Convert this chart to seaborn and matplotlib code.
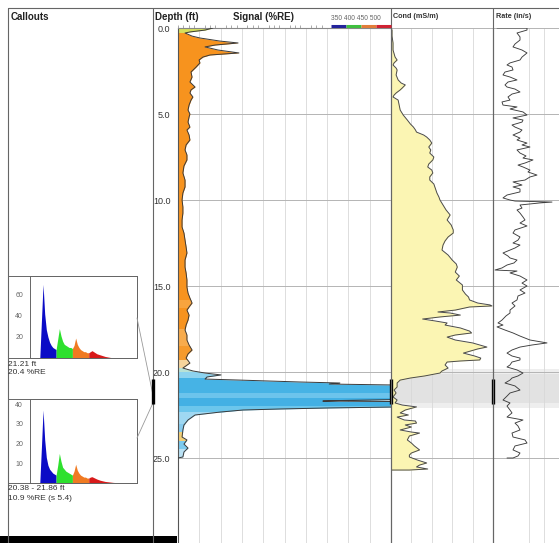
import numpy as np
import matplotlib
matplotlib.use("Agg")
import matplotlib.pyplot as plt
from matplotlib.patches import Rectangle
from matplotlib.ticker import MultipleLocator, FormatStrFormatter
import seaborn as sns

# Signal (%RE) against depth (ft)
signal_depth = [0.00, 0.12, 0.23, 0.29, 0.47, 0.58, 0.76, 0.87, 0.99, 1.10,
                1.28, 1.45, 1.57, 1.69, 1.86, 2.03, 2.27, 2.56, 2.85, 3.14,
                3.43, 3.60, 3.78, 4.01, 4.19, 4.48, 4.77, 5.00, 5.17, 5.47,
                5.76, 5.93, 6.22, 6.51, 6.80, 7.09, 7.38, 7.67, 8.02, 8.43,
                8.84, 9.24, 9.59, 10.00, 10.41, 10.76, 11.16, 11.57, 11.92, 12.33,
                12.73, 13.08, 13.49, 13.90, 14.24, 14.65, 15.06, 15.41, 15.70, 15.99,
                16.22, 16.40, 16.69, 16.98, 17.27, 17.56, 17.85, 18.14, 18.43, 18.72,
                18.95, 19.19, 19.48, 19.77, 19.94, 20.06, 20.17, 20.29, 20.41, 20.47,
                20.58, 20.64, 20.70, 20.76, 21.60, 21.66, 21.69, 21.72, 21.76, 22.03,
                22.09, 22.15, 22.21, 22.33, 22.50, 22.79, 23.08, 23.37, 23.78, 23.95,
                24.19, 24.42, 24.65, 24.94, 25.00]
signal_value = [16.4, 12.7, 5.6, 3.3, 6.6, 10.3, 19.7, 28.2, 17.4, 12.7,
                18.8, 28.6, 15.0, 11.7, 9.9, 10.3, 8.5, 6.1, 6.6, 5.6,
                8.0, 6.1, 5.6, 7.0, 6.1, 5.2, 4.7, 5.6, 5.2, 4.7,
                5.6, 4.2, 5.2, 5.6, 3.8, 3.3, 4.2, 4.2, 2.8, 2.3,
                3.3, 3.3, 2.3, 1.9, 2.3, 2.3, 1.9, 1.9, 2.8, 3.3,
                3.8, 4.2, 3.3, 3.3, 3.8, 4.2, 4.2, 4.7, 5.6, 6.6,
                5.2, 4.2, 5.2, 4.7, 3.8, 3.3, 4.2, 4.2, 5.2, 6.6,
                4.7, 3.8, 5.6, 2.3, 7.0, 12.7, 20.2, 13.6, 12.7, 29.0,
                57.0, 76.0, 71.0, 104, 104, 75, 68, 104, 104, 104,
                71, 48, 30.5, 19.7, 8.0, 4.7, 2.8, 2.3, 1.9, 4.2,
                2.8, 4.7, 2.8, 2.3, 0.0]

# colour zones of the signal fill
zone_top = [0.0, 0.3, 15.8, 16.3, 17.5, 18.5, 19.3, 19.75, 20.0, 20.35,
            21.2, 21.5, 22.0, 22.3, 23.0, 23.5, 24.0, 24.5]
zone_bottom = [0.3, 15.8, 16.3, 17.5, 18.5, 19.3, 19.75, 20.0, 20.35, 21.2,
               21.5, 22.0, 22.3, 23.0, 23.5, 24.0, 24.5, 25.0]
zone_color = ['#d6e05c', '#f7931e', '#f8a43e', '#f7931e', '#f7ab4c', '#f59a2c',
              '#f6d49c', '#b8e2d6', '#8dd3ef', '#46b3e5', '#6cc4ec', '#43b0e4',
              '#6cc6ec', '#9fd8f2', '#86ccef', '#f2cf78', '#7ccaee', '#b9e1f4']

# Conductivity (mS/m)
cond_depth = [0.00, 0.12, 0.47, 0.87, 1.28, 1.69, 1.86, 2.03, 2.15, 2.33,
              2.44, 2.73, 3.02, 3.20, 3.31, 3.49, 3.60, 3.78, 3.90, 4.01,
              4.19, 4.48, 4.77, 5.06, 5.35, 5.58, 5.76, 5.93, 6.05, 6.22,
              6.34, 6.51, 6.69, 6.92, 7.09, 7.27, 7.50, 7.67, 7.91, 8.08,
              8.26, 8.43, 8.66, 8.84, 9.07, 9.24, 9.42, 9.59, 9.83, 10.00,
              10.29, 10.58, 10.87, 11.16, 11.45, 11.74, 11.92, 12.15, 12.38, 12.62,
              12.91, 13.20, 13.49, 13.72, 13.90, 14.19, 14.42, 14.65, 14.94, 15.23,
              15.47, 15.64, 15.81, 15.99, 16.10, 16.16, 16.22, 16.40, 16.51, 16.57,
              16.69, 16.80, 16.92, 17.03, 17.15, 17.27, 17.44, 17.62, 17.73, 17.85,
              17.97, 18.14, 18.31, 18.43, 18.55, 18.66, 18.78, 18.90, 19.07, 19.19,
              19.30, 19.36, 19.42, 19.59, 19.77, 19.94, 20.06, 20.23, 20.35, 20.47,
              20.64, 20.87, 21.05, 21.22, 21.45, 21.63, 21.80, 21.92, 22.03, 22.21,
              22.38, 22.50, 22.62, 22.79, 22.85, 22.97, 23.08, 23.20, 23.37, 23.49,
              23.55, 23.72, 23.95, 24.13, 24.30, 24.53, 24.71, 24.83, 24.94, 25.12,
              25.29, 25.41, 25.52, 25.64, 25.70, 25.70]
cond_value = [0, 1, 1, 2, 2, 4, 6, 3, 2, 5,
              6, 5, 7, 10, 14, 11, 9, 5, 3, 2,
              7, 8, 9, 12, 16, 19, 22, 24, 25, 32,
              35, 38, 40, 37, 39, 38, 42, 41, 37, 36,
              40, 41, 38, 38, 42, 43, 44, 45, 47, 48,
              51, 54, 58, 55, 59, 61, 61, 56, 53, 51,
              50, 56, 60, 64, 65, 63, 67, 64, 70, 70,
              73, 76, 77, 85, 97, 99, 77, 63, 46, 58,
              68, 48, 31, 43, 55, 53, 68, 77, 79, 63,
              55, 63, 80, 87, 94, 85, 78, 71, 82, 88,
              87, 68, 55, 53, 56, 50, 48, 33, 19, 9,
              6, 6, 3, 5, 2, 6, 4, 11, 25, 14,
              9, 17, 6, 13, 24, 25, 14, 20, 9, 20,
              28, 18, 16, 20, 23, 28, 20, 18, 18, 26,
              35, 28, 25, 36, 18, 0]

# Logging rate (in/s, track units)
rate_depth = [0.00, 0.00, 0.12, 0.29, 0.52, 0.70, 0.93, 1.10, 1.28, 1.45,
              1.69, 1.86, 2.03, 2.15, 2.27, 2.44, 2.56, 2.73, 2.85, 3.02,
              3.14, 3.31, 3.43, 3.55, 3.72, 3.84, 4.01, 4.19, 4.30, 4.48,
              4.59, 4.71, 4.88, 5.06, 5.23, 5.35, 5.47, 5.64, 5.76, 5.93,
              6.05, 6.22, 6.40, 6.51, 6.69, 6.80, 6.92, 7.09, 7.27, 7.44,
              7.56, 7.67, 7.85, 7.97, 8.08, 8.26, 8.37, 8.55, 8.66, 8.84,
              8.95, 9.13, 9.24, 9.36, 9.53, 9.71, 9.88, 10.00, 10.06, 10.12,
              10.17, 10.29, 10.47, 10.58, 10.76, 10.99, 11.16, 11.34, 11.51, 11.74,
              11.92, 12.15, 12.33, 12.50, 12.62, 12.79, 12.91, 13.08, 13.26, 13.37,
              13.49, 13.66, 13.78, 13.95, 14.07, 14.13, 14.24, 14.42, 14.65, 14.83,
              15.00, 15.23, 15.41, 15.58, 15.81, 15.99, 16.16, 16.40, 16.57, 16.74,
              16.98, 17.15, 17.27, 17.38, 17.56, 17.73, 17.91, 18.14, 18.31, 18.43,
              18.55, 18.72, 18.90, 19.07, 19.19, 19.30, 19.42, 19.59, 19.71, 19.88,
              20.06, 20.23, 20.35, 20.47, 20.64, 20.81, 21.05, 21.22, 21.40, 21.63,
              21.80, 21.98, 22.21, 22.38, 22.62, 22.79, 22.97, 23.14, 23.37, 23.55,
              23.78, 23.95, 24.13, 24.30, 24.53, 24.71, 24.88, 25.00, 25.00]
rate_value = [4, 34, 34, 24, 27, 27, 22, 20, 29, 34,
              29, 27, 17, 14, 19, 20, 12, 10, 17, 24,
              15, 12, 14, 22, 27, 19, 15, 17, 9, 10,
              24, 17, 30, 34, 20, 30, 29, 19, 22, 29,
              27, 20, 27, 24, 34, 29, 37, 24, 27, 33,
              30, 40, 32, 25, 30, 37, 35, 44, 37, 32,
              20, 29, 20, 27, 27, 14, 10, 17, 22, 59,
              47, 27, 29, 24, 27, 30, 32, 27, 34, 22,
              20, 27, 25, 20, 27, 22, 17, 10, 15, 17,
              24, 21, 14, 9, 2, 24, 17, 27, 34, 29,
              34, 27, 32, 25, 24, 19, 22, 17, 17, 13,
              9, 5, 10, 4, 12, 20, 27, 37, 54, 39,
              27, 19, 14, 19, 27, 27, 19, 17, 14, 24,
              30, 25, 19, 17, 12, 22, 27, 17, 14, 10,
              17, 14, 17, 19, 14, 30, 22, 25, 27, 19,
              20, 32, 34, 22, 20, 27, 25, 20, 14]

# callout spectra (counts per energy bin)
energy = np.arange(340, 645, 5)
spec_point = [0, 0, 0, 35, 70, 42, 27, 20, 15, 12, 10, 9, 8,
              18, 28, 21, 16, 13, 12, 11, 10, 10, 9,
              12, 19, 13, 10, 8, 7, 6, 6, 5, 5,
              6, 7, 6, 5, 4, 3.5, 3, 2.5, 2, 1.5, 1.2, 0.9, 0.6, 0.4, 0.2, 0.1,
              0, 0, 0, 0, 0, 0, 0, 0, 0, 0, 0, 0]
spec_range = [0, 0, 0, 18, 37, 22, 13, 9, 7, 6, 5, 4.5, 4,
              9, 15, 11, 8, 7, 6, 5.5, 5, 4.5, 4,
              6, 9.5, 6.5, 5, 4, 3.5, 3, 3, 2.5, 2.5,
              3, 3.2, 2.8, 2.4, 2, 1.7, 1.4, 1.2, 1, 0.8, 0.7, 0.6, 0.5, 0.4, 0.3, 0.25,
              0.2, 0.15, 0.1, 0.1, 0.08, 0.06, 0.05, 0.04, 0.03, 0.02, 0.01, 0]
win_lo = [340, 400, 450, 500]
win_hi = [400, 450, 500, 640]
win_color = ['#0b0bc6', '#2ee02e', '#f07a22', '#d81a1a']

point_label = ["21.21 ft", "20.4 %RE"]
range_label = ["20.38 - 21.86 ft", "10.9 %RE (s 5.4)"]
range_top, range_bottom = 20.38, 21.86
point_depth = 21.21

sns.set_style("white")
plt.rcParams['font.family'] = ['Liberation Sans', 'DejaVu Sans']

W, H = 559, 543
TOP = 28
PX_FT = 17.2
depth_max = (H - TOP) / PX_FT


def place(x0, y0, x1, y1):
    return [x0 / W, 1 - y1 / H, (x1 - x0) / W, (y1 - y0) / H]


def ypx(d):
    return TOP + d * PX_FT


fig = plt.figure(figsize=(W / 100, H / 100), dpi=100)


def track(x0, x1, xmax, xgrid):
    ax = fig.add_axes(place(x0, TOP, x1, H))
    ax.set_xlim(0, xmax)
    ax.set_ylim(depth_max, 0)
    ax.set_xticks(xgrid)
    ax.set_yticks(np.arange(0, 30, 5))
    ax.yaxis.set_minor_locator(MultipleLocator(0.5))
    ax.grid(axis='x', color='#d8d8d8', lw=0.6)
    ax.grid(axis='y', color='#b4b4b4', lw=0.7)
    ax.set_axisbelow(True)
    for s in ax.spines.values():
        s.set_visible(False)
    ax.spines['left'].set_visible(True)
    ax.spines['left'].set_color('#555555')
    ax.spines['left'].set_linewidth(0.8)
    ax.tick_params(axis='x', which='both', length=0, labelbottom=False, labeltop=False)
    ax.tick_params(axis='y', which='both', labelleft=False, direction='inout',
                   color='#555555', width=0.6)
    ax.tick_params(axis='y', which='major', length=5)
    ax.tick_params(axis='y', which='minor', length=3)
    return ax


# signal track
ax_s = track(178, 391, 100, list(range(10, 100, 10)))
for top, bot, c in zip(zone_top, zone_bottom, zone_color):
    poly = ax_s.fill_betweenx(signal_depth, 0, signal_value, color=c, lw=0, zorder=2)
    poly.set_clip_path(Rectangle((-5, top), 120, bot - top, transform=ax_s.transData))
sns.lineplot(x=signal_value, y=signal_depth, orient='y', sort=False, estimator=None,
             color='#3a3a3a', linewidth=0.7, ax=ax_s, zorder=3)
ax_s.set(xlabel='', ylabel='')
ax_s.set_xlim(0, 100)
ax_s.set_ylim(depth_max, 0)
ax_s.tick_params(axis='y', which='both', labelleft=True, direction='out', labelsize=6.5,
                 labelcolor='#333333', pad=1.5)
ax_s.tick_params(axis='y', which='major', length=4)
ax_s.tick_params(axis='y', which='minor', length=2.5)
ax_s.yaxis.set_major_formatter(FormatStrFormatter('%.1f'))
ax_s.spines['top'].set_visible(True)
ax_s.spines['top'].set_color('#888888')
ax_s.spines['top'].set_linewidth(0.8)
ax_s.xaxis.set_ticks_position('top')
ax_s.xaxis.set_minor_locator(MultipleLocator(2.5))
ax_s.tick_params(axis='x', which='major', length=0, labeltop=False, labelbottom=False)
ax_s.tick_params(axis='x', which='minor', length=2, color='#888888', width=0.5,
                 direction='out', labeltop=False, labelbottom=False)

# conductivity track
ax_c = track(391, 493, 100, [20, 40, 60, 80])
ax_c.axhspan(19.8, 22.1, color='#eeeeee', lw=0, zorder=0.2)
ax_c.axhspan(20.1, 21.8, color='#e2e2e2', lw=0, zorder=0.3)
ax_c.fill_betweenx(cond_depth, 0, cond_value, color='#fbf5b3', lw=0, zorder=2)
sns.lineplot(x=cond_value, y=cond_depth, orient='y', sort=False, estimator=None,
             color='#4a4a4a', linewidth=0.7, ax=ax_c, zorder=3)
ax_c.set(xlabel='', ylabel='')
ax_c.set_xlim(0, 100)
ax_c.set_ylim(depth_max, 0)

# rate track
ax_r = track(493, 559, 66, [36, 51])
ax_r.axhspan(19.8, 22.1, color='#eeeeee', lw=0, zorder=0.2)
ax_r.axhspan(20.1, 21.8, color='#e2e2e2', lw=0, zorder=0.3)
sns.lineplot(x=rate_value, y=rate_depth, orient='y', sort=False, estimator=None,
             color='#3c3c3c', linewidth=0.65, ax=ax_r, zorder=3)
ax_r.set(xlabel='', ylabel='')
ax_r.set_xlim(0, 66)
ax_r.set_ylim(depth_max, 0)

for ax in (ax_c, ax_r):
    ax.plot([0, 0], [range_top, range_bottom], color='black', lw=2.4,
            solid_capstyle='butt', clip_on=False, zorder=6)


# callout spectra
def spectrum_inset(y0, y1, spec, ymax, yticks):
    ax = fig.add_axes(place(30, y0, 137, y1))
    spec = np.asarray(spec, dtype=float)
    for lo, hi, c in zip(win_lo, win_hi, win_color):
        m = (energy >= lo) & (energy <= hi)
        ax.fill_between(energy[m], 0, spec[m], color=c, lw=0)
    ax.set_xlim(320, 648)
    ax.set_ylim(0, ymax)
    ax.set_xticks([])
    ax.set_yticks(yticks)
    ax.tick_params(axis='y', labelsize=5, labelcolor='#666666', length=2, width=0.5,
                   color='#666666', pad=3)
    for s in ax.spines.values():
        s.set_color('#666666')
        s.set_linewidth(0.7)
    ax.grid(False)
    return ax


spectrum_inset(276, 358, spec_point, 78, [20, 40, 60])
spectrum_inset(399, 483, spec_range, 42.6, [10, 20, 30, 40])

# overlay for frame, headers and callout links
ov = fig.add_axes([0, 0, 1, 1], zorder=10)
ov.set_xlim(0, W)
ov.set_ylim(H, 0)
ov.axis('off')

frame = dict(color='#666666', lw=0.8)
ov.plot([7.5, W], [7.5, 7.5], **frame)
for x in (7.5, 152.5, 391, 493):
    ov.plot([x, x], [7.5, H], **frame)

ov.text(11, 17, "Callouts", fontsize=7, fontweight='bold', va='center', color='#222222')
ov.text(155, 17, "Depth (ft)", fontsize=7, fontweight='bold', va='center', color='#222222')
ov.text(233, 17, "Signal (%RE)", fontsize=7, fontweight='bold', va='center', color='#222222')
ov.text(331, 18, "350 400 450 500", fontsize=4.8, va='center', color='#666666')
bar_edges = [331, 346, 361, 376, 391]
bar_colors = ['#23239b', '#3fbf3f', '#e27d3a', '#cf2233']
for i, c in enumerate(bar_colors):
    ov.plot([bar_edges[i], bar_edges[i + 1]], [26.3, 26.3], color=c, lw=2.2,
            solid_capstyle='butt')
ov.text(393, 17, "Cond (mS/m)", fontsize=5.2, fontweight='bold', va='center', color='#333333')
ov.text(496, 17, "Rate (in/s)", fontsize=5.2, fontweight='bold', va='center', color='#333333')

# callout boxes and text
ov.add_patch(Rectangle((7.5, 276), 129.5, 82, fill=False, ec='#666666', lw=0.7))
ov.add_patch(Rectangle((7.5, 399), 129.5, 84, fill=False, ec='#666666', lw=0.7))
ov.text(8.5, 364, point_label[0], fontsize=6, va='center', color='#333333')
ov.text(8.5, 372, point_label[1], fontsize=6, va='center', color='#333333')
ov.text(8.5, 489, range_label[0], fontsize=6, va='center', color='#333333')
ov.text(8.5, 499, range_label[1], fontsize=6, va='center', color='#333333')

ov.plot([137, 152.5], [318, ypx(point_depth)], color='#999999', lw=0.6)
ov.plot([137, 152.5], [438, ypx(range_bottom)], color='#999999', lw=0.6)
ov.plot([152.5, 152.5], [ypx(range_top), ypx(range_bottom)], color='black', lw=2.4,
        solid_capstyle='butt')

ov.add_patch(Rectangle((0, 536), 177, 7, color='black', lw=0))

fig.savefig("out.png", dpi=100)
